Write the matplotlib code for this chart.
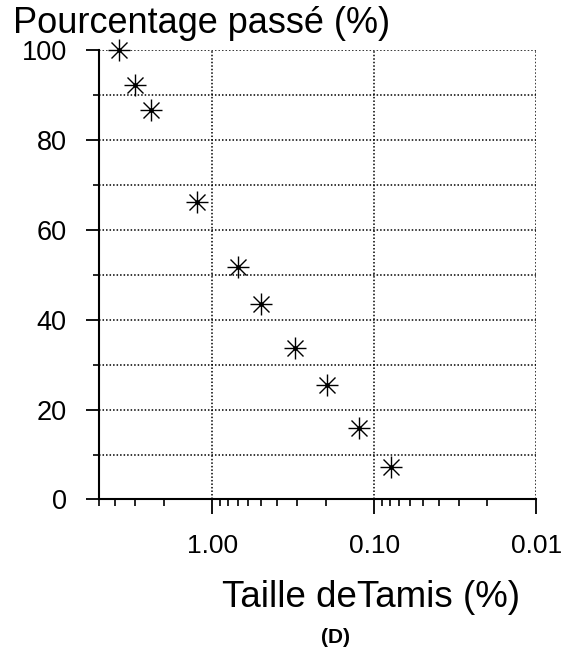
import matplotlib.pyplot as plt
from matplotlib.ticker import FixedLocator, FormatStrFormatter, LogLocator, NullFormatter

plt.rcParams['font.family'] = ['Liberation Sans', 'DejaVu Sans']

# tamisage : ouverture du tamis et pourcentage passant
taille = [3.79, 3.02, 2.41, 1.25, 0.70, 0.503, 0.307, 0.196, 0.124, 0.079]
passe = [100, 92.3, 86.8, 66.2, 51.8, 43.6, 33.6, 25.4, 15.9, 7.3]

xticks = [1.0, 0.1, 0.01]
yticks = [0, 20, 40, 60, 80, 100]

fig = plt.figure(figsize=(5.71, 6.52), dpi=100)
ax = fig.add_axes([0.174, 0.234, 0.765, 0.689])

# asterisque = croix droite + croix diagonale
ax.plot(taille, passe, ls='none', marker='+', ms=15.5, mew=1.0, color='k', clip_on=False, zorder=5)
ax.plot(taille, passe, ls='none', marker='x', ms=11, mew=1.0, color='k', clip_on=False, zorder=5)
ax.plot(taille, passe, ls='none', marker='o', ms=2.5, color='k', clip_on=False, zorder=6)

ax.set_xscale('log')
ax.set_xlim(5, 0.01)
ax.set_ylim(0, 100)

ax.xaxis.set_major_locator(FixedLocator(xticks))
ax.xaxis.set_major_formatter(FormatStrFormatter('%.2f'))
ax.xaxis.set_minor_locator(LogLocator(base=10, subs=range(2, 10)))
ax.xaxis.set_minor_formatter(NullFormatter())
ax.yaxis.set_major_locator(FixedLocator(yticks))
ax.yaxis.set_minor_locator(FixedLocator([10, 30, 50, 70, 90]))

ax.tick_params(axis='x', which='major', labelsize=19, length=11, width=1.3, pad=14)
ax.tick_params(axis='y', which='major', labelsize=19.5, length=9.5, width=1.3, pad=14)
ax.tick_params(axis='x', which='minor', length=5, width=1.2)
ax.tick_params(axis='y', which='minor', length=4.5, width=1.2)

dots = (0, (1, 1.3))
for v in range(10, 101, 10):
    ax.axhline(v, color='k', lw=1.1, ls=dots, zorder=1)
for v in xticks:
    ax.axvline(v, color='k', lw=1.1, ls=dots, zorder=1)

for s in ['top', 'right']:
    ax.spines[s].set_visible(False)
for s in ['left', 'bottom']:
    ax.spines[s].set_linewidth(1.5)

fig.text(0.022, 0.949, 'Pourcentage passé (%)', fontsize=26, ha='left', va='baseline')
fig.text(0.650, 0.069, 'Taille deTamis (%)', fontsize=26.5, ha='center', va='baseline')
fig.text(0.587, 0.022, '(D)', fontsize=15, fontweight='bold', ha='center', va='center')

fig.savefig('out.png', dpi=100)
